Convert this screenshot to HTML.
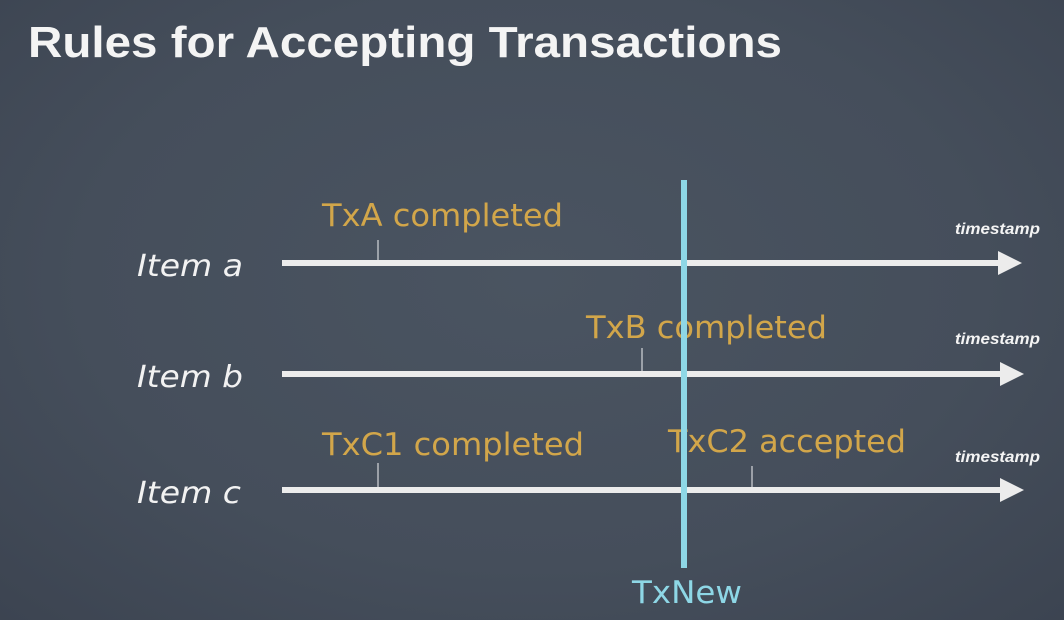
<!DOCTYPE html>
<html><head><style>
html,body{margin:0;padding:0}
body{width:1064px;height:620px;overflow:hidden;background:radial-gradient(ellipse at 50% 45%,#4a5461 0%,#454e5b 60%,#3c4451 100%);}
svg{display:block}
</style></head><body>
<svg width="1064" height="620" xmlns="http://www.w3.org/2000/svg" font-family="Liberation Sans, DejaVu Sans, sans-serif">
<text x="28" y="57" font-size="44" font-weight="bold" fill="#f4f4f4" textLength="754" lengthAdjust="spacingAndGlyphs">Rules for Accepting Transactions</text>
<g fill="#f2f2f2" font-size="30" font-style="italic" font-family="DejaVu Sans, sans-serif">
<text x="137" y="276" textLength="106" lengthAdjust="spacingAndGlyphs">Item a</text>
<text x="137" y="387" textLength="106" lengthAdjust="spacingAndGlyphs">Item b</text>
<text x="137" y="503" textLength="104" lengthAdjust="spacingAndGlyphs">Item c</text>
</g>
<g fill="#ececec">
<rect x="282" y="260" width="720" height="6"/><polygon points="998,251 1022,263 998,275"/>
<rect x="282" y="371" width="722" height="6"/><polygon points="1000,362 1024,374 1000,386"/>
<rect x="282" y="487" width="722" height="6"/><polygon points="1000,478 1024,490 1000,502"/>
</g>
<g stroke="#b8bcc2" stroke-width="1.5">
<line x1="378" y1="240" x2="378" y2="260"/>
<line x1="642" y1="348" x2="642" y2="371"/>
<line x1="378" y1="463" x2="378" y2="487"/>
<line x1="752" y1="466" x2="752" y2="487"/>
</g>
<g fill="#d2a64a" font-size="31" font-family="DejaVu Sans, sans-serif">
<text x="322" y="226" textLength="241" lengthAdjust="spacingAndGlyphs">TxA completed</text>
<text x="586" y="338" textLength="241" lengthAdjust="spacingAndGlyphs">TxB completed</text>
<text x="322" y="455" textLength="262" lengthAdjust="spacingAndGlyphs">TxC1 completed</text>
<text x="668" y="452" textLength="238" lengthAdjust="spacingAndGlyphs">TxC2 accepted</text>
</g>
<g fill="#f4f4f4" font-size="16" font-style="italic" font-weight="bold">
<text x="955" y="234" textLength="85" lengthAdjust="spacingAndGlyphs">timestamp</text>
<text x="955" y="344" textLength="85" lengthAdjust="spacingAndGlyphs">timestamp</text>
<text x="955" y="462" textLength="85" lengthAdjust="spacingAndGlyphs">timestamp</text>
</g>
<rect x="681" y="180" width="6" height="388" fill="#8ed7e6"/>
<text x="632" y="603" font-size="31" fill="#8ed7e6" font-family="DejaVu Sans, sans-serif" textLength="110" lengthAdjust="spacingAndGlyphs">TxNew</text>
</svg>
</body></html>
